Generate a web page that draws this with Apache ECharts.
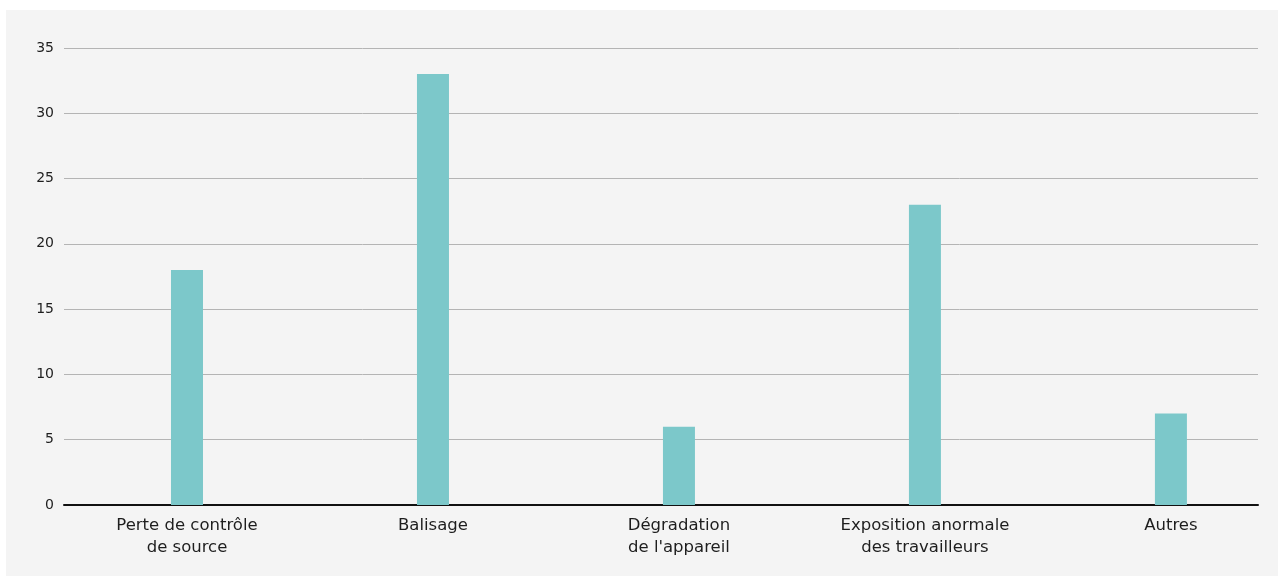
<!DOCTYPE html>
<html>
<head>
<meta charset="utf-8">
<style>
  html, body { margin: 0; padding: 0; background: #ffffff; }
  #chart { position: absolute; left: 6px; top: 10px; width: 1272px; height: 566px; background: #f4f4f4; }
</style>
<script src="https://cdn.jsdelivr.net/npm/echarts@6/dist/echarts.min.js"></script>
</head>
<body>
<div id="chart"></div>
<script>
// Incident categories (two-line labels) and counts
const categories = [
  'Perte de contrôle\nde source',
  'Balisage',
  'Dégradation\nde l\'appareil',
  'Exposition anormale\ndes travailleurs',
  'Autres'
];
const counts = [18, 33, 6, 23, 7];
const yTicks = [0, 5, 10, 15, 20, 25, 30, 35];

const positions = categories.map((_, i) => i);
const barData = counts.map((v, i) => [i, v]);

const chart = echarts.init(document.getElementById('chart'), null, { renderer: 'canvas' });
const font = '"DejaVu Sans", Inter, sans-serif';

chart.setOption({
  backgroundColor: '#f4f4f4',
  animation: false,
  grid: { left: 58, right: 20, top: 38, bottom: 71, containLabel: false },
  xAxis: {
    type: 'value',
    min: -0.5,
    max: 4.354,
    axisLine: { show: true, onZero: false, lineStyle: { color: '#111111', width: 2 } },
    axisTick: { show: false },
    splitLine: { show: false },
    axisLabel: {
      customValues: positions,
      formatter: (v) => categories[Math.round(v)],
      color: '#1e1e1e',
      fontFamily: font,
      fontSize: 16.5,
      lineHeight: 22,
      margin: 10,
      align: 'center'
    }
  },
  yAxis: {
    type: 'value',
    min: 0,
    max: 35,
    interval: 5,
    axisLine: { show: false },
    axisTick: { show: false },
    splitLine: { lineStyle: { color: '#b4b4b4', width: 1 } },
    axisLabel: {
      color: '#1e1e1e',
      fontFamily: font,
      fontSize: 14,
      margin: 10,
      formatter: (v) => yTicks.includes(v) ? String(v) : ''
    }
  },
  series: [{
    type: 'bar',
    data: barData,
    barWidth: 32,
    itemStyle: { color: '#7cc8ca' }
  }]
});
</script>
</body>
</html>
